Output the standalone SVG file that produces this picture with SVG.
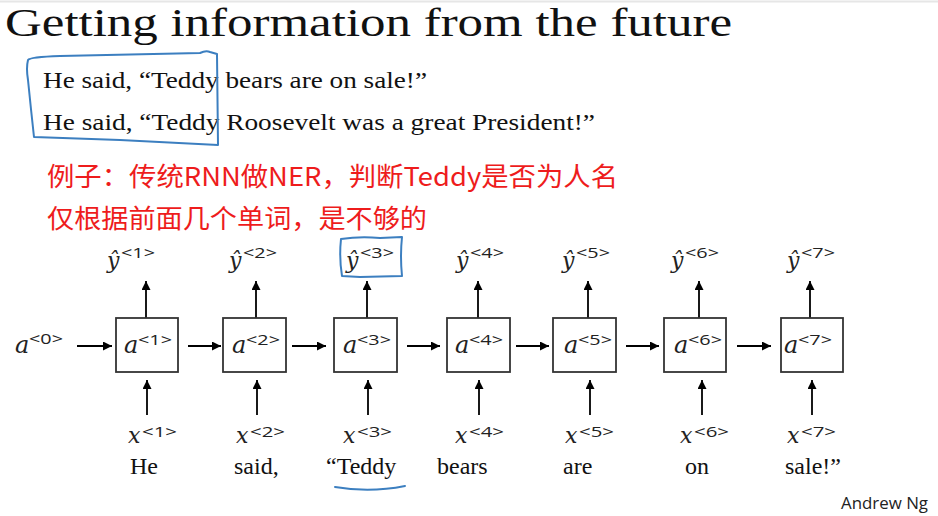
<svg xmlns="http://www.w3.org/2000/svg" width="938" height="516" viewBox="0 0 938 516">
<defs>
<marker id="ah" viewBox="0 0 10 10" refX="10" refY="5" markerWidth="9" markerHeight="9" markerUnits="userSpaceOnUse" orient="auto">
<path d="M0,0 L10,5 L0,10 z" fill="#000"/>
</marker>
<style>
.serif{font-family:"Liberation Serif","DejaVu Serif",serif;fill:#111}
.w{font-family:"Liberation Serif","DejaVu Serif",serif;fill:#111;font-size:24px}
.m{font-family:"DejaVu Serif",serif;font-style:italic;fill:#222}
.sup{font-family:"Open Sans","Liberation Sans",sans-serif;fill:#222;font-size:15px}
.red{font-family:"Microsoft YaHei","Noto Sans CJK SC",sans-serif;fill:#ee1c1c;font-size:26px}
.box{fill:#fff;stroke:#333;stroke-width:1.8}
.ar{stroke:#000;stroke-width:1.8;fill:none;marker-end:url(#ah)}
.hand{fill:none;stroke:#3c7fc0;stroke-width:2;stroke-linecap:round;stroke-linejoin:round}
</style>
</defs>
<rect width="938" height="516" fill="#fff"/>
<line x1="0" y1="1.5" x2="938" y2="1.5" stroke="#e6e6e6" stroke-width="2"/>

<text class="serif" x="5" y="36" font-size="41" textLength="727" lengthAdjust="spacingAndGlyphs">Getting information from the future</text>
<text class="serif" x="43" y="88" font-size="23" textLength="384" lengthAdjust="spacingAndGlyphs">He said, “Teddy bears are on sale!”</text>
<text class="serif" x="43" y="130" font-size="23" textLength="552" lengthAdjust="spacingAndGlyphs">He said, “Teddy Roosevelt was a great President!”</text>

<path class="hand" d="M28,60 Q30,57 60,56 L200,53 Q206,50 210,52 L217,54 L218,145 L120,140 L34,137 Q31,110 28,80 Q26,68 28,60"/>

<text class="red" x="47" y="186" textLength="571" lengthAdjust="spacingAndGlyphs">例子：传统RNN做NER，判断Teddy是否为人名</text>
<text class="red" x="47" y="228" textLength="380" lengthAdjust="spacingAndGlyphs">仅根据前面几个单词，是不够的</text>

<g id="connectors">
<line class="ar" x1="77" y1="346" x2="112" y2="346"/>
<line class="ar" x1="188" y1="346" x2="221" y2="346"/>
<line class="ar" x1="292" y1="346" x2="326" y2="346"/>
<line class="ar" x1="407" y1="346" x2="440" y2="346"/>
<line class="ar" x1="516" y1="346" x2="549" y2="346"/>
<line class="ar" x1="626" y1="346" x2="659" y2="346"/>
<line class="ar" x1="737" y1="346" x2="771" y2="346"/>
<line class="ar" x1="146" y1="318" x2="146" y2="281"/>
<line class="ar" x1="256" y1="318" x2="256" y2="281"/>
<line class="ar" x1="367" y1="318" x2="367" y2="281"/>
<line class="ar" x1="478" y1="318" x2="478" y2="281"/>
<line class="ar" x1="588" y1="318" x2="588" y2="281"/>
<line class="ar" x1="699" y1="318" x2="699" y2="281"/>
<line class="ar" x1="810" y1="318" x2="810" y2="281"/>
<line class="ar" x1="147" y1="415" x2="147" y2="380"/>
<line class="ar" x1="257" y1="415" x2="257" y2="380"/>
<line class="ar" x1="368" y1="415" x2="368" y2="380"/>
<line class="ar" x1="479" y1="415" x2="479" y2="380"/>
<line class="ar" x1="590" y1="415" x2="590" y2="380"/>
<line class="ar" x1="702" y1="415" x2="702" y2="380"/>
<line class="ar" x1="812" y1="415" x2="812" y2="380"/>
</g>

<g id="a0"><text class="m" x="15" y="353" font-size="24">a</text><text class="sup" x="29" y="344" textLength="34" lengthAdjust="spacingAndGlyphs">&lt;0&gt;</text></g>

<g id="node1"><rect class="box" x="116" y="318" width="62" height="54"/><text class="m" x="124" y="353" font-size="24">a</text><text class="sup" x="138" y="345" textLength="34" lengthAdjust="spacingAndGlyphs">&lt;1&gt;</text></g>
<g id="node2"><rect class="box" x="223" y="318" width="63" height="54"/><text class="m" x="232" y="353" font-size="24">a</text><text class="sup" x="246" y="345" textLength="34" lengthAdjust="spacingAndGlyphs">&lt;2&gt;</text></g>
<g id="node3"><rect class="box" x="334" y="318" width="63" height="54"/><text class="m" x="343" y="353" font-size="24">a</text><text class="sup" x="357" y="345" textLength="34" lengthAdjust="spacingAndGlyphs">&lt;3&gt;</text></g>
<g id="node4"><rect class="box" x="447" y="318" width="63" height="54"/><text class="m" x="455" y="353" font-size="24">a</text><text class="sup" x="469" y="345" textLength="34" lengthAdjust="spacingAndGlyphs">&lt;4&gt;</text></g>
<g id="node5"><rect class="box" x="553" y="318" width="63" height="54"/><text class="m" x="564" y="353" font-size="24">a</text><text class="sup" x="578" y="345" textLength="34" lengthAdjust="spacingAndGlyphs">&lt;5&gt;</text></g>
<g id="node6"><rect class="box" x="664" y="318" width="62" height="54"/><text class="m" x="674" y="353" font-size="24">a</text><text class="sup" x="688" y="345" textLength="34" lengthAdjust="spacingAndGlyphs">&lt;6&gt;</text></g>
<g id="node7"><rect class="box" x="781" y="318" width="62" height="54"/><text class="m" x="784" y="353" font-size="24">a</text><text class="sup" x="798" y="345" textLength="34" lengthAdjust="spacingAndGlyphs">&lt;7&gt;</text></g>

<g id="y1"><text class="m" x="107" y="268" font-size="22">ŷ</text><text class="sup" x="121" y="258" textLength="34" lengthAdjust="spacingAndGlyphs">&lt;1&gt;</text></g>
<g id="y2"><text class="m" x="229" y="268" font-size="22">ŷ</text><text class="sup" x="243" y="258" textLength="34" lengthAdjust="spacingAndGlyphs">&lt;2&gt;</text></g>
<g id="y3"><text class="m" x="346" y="268" font-size="22">ŷ</text><text class="sup" x="360" y="258" textLength="34" lengthAdjust="spacingAndGlyphs">&lt;3&gt;</text></g>
<g id="y4"><text class="m" x="456" y="268" font-size="22">ŷ</text><text class="sup" x="470" y="258" textLength="34" lengthAdjust="spacingAndGlyphs">&lt;4&gt;</text></g>
<g id="y5"><text class="m" x="562" y="268" font-size="22">ŷ</text><text class="sup" x="576" y="258" textLength="34" lengthAdjust="spacingAndGlyphs">&lt;5&gt;</text></g>
<g id="y6"><text class="m" x="671" y="268" font-size="22">ŷ</text><text class="sup" x="685" y="258" textLength="34" lengthAdjust="spacingAndGlyphs">&lt;6&gt;</text></g>
<g id="y7"><text class="m" x="787" y="268" font-size="22">ŷ</text><text class="sup" x="801" y="258" textLength="34" lengthAdjust="spacingAndGlyphs">&lt;7&gt;</text></g>

<path class="hand" d="M341,239 Q360,236 380,238 L402,237 Q400,256 402,276 L360,277 L342,276 Q339,258 341,239"/>

<g id="x1"><text class="m" x="128" y="443" font-size="22">x</text><text class="sup" x="142" y="437" textLength="35" lengthAdjust="spacingAndGlyphs">&lt;1&gt;</text><text class="w" x="130" y="474">He</text></g>
<g id="x2"><text class="m" x="236" y="443" font-size="22">x</text><text class="sup" x="250" y="437" textLength="35" lengthAdjust="spacingAndGlyphs">&lt;2&gt;</text><text class="w" x="234" y="474">said,</text></g>
<g id="x3"><text class="m" x="343" y="443" font-size="22">x</text><text class="sup" x="357" y="437" textLength="35" lengthAdjust="spacingAndGlyphs">&lt;3&gt;</text><text class="w" x="326" y="474">“Teddy</text></g>
<g id="x4"><text class="m" x="455" y="443" font-size="22">x</text><text class="sup" x="469" y="437" textLength="35" lengthAdjust="spacingAndGlyphs">&lt;4&gt;</text><text class="w" x="437" y="474">bears</text></g>
<g id="x5"><text class="m" x="565" y="443" font-size="22">x</text><text class="sup" x="579" y="437" textLength="35" lengthAdjust="spacingAndGlyphs">&lt;5&gt;</text><text class="w" x="563" y="474">are</text></g>
<g id="x6"><text class="m" x="680" y="443" font-size="22">x</text><text class="sup" x="694" y="437" textLength="35" lengthAdjust="spacingAndGlyphs">&lt;6&gt;</text><text class="w" x="685" y="474">on</text></g>
<g id="x7"><text class="m" x="787" y="443" font-size="22">x</text><text class="sup" x="801" y="437" textLength="35" lengthAdjust="spacingAndGlyphs">&lt;7&gt;</text><text class="w" x="785" y="474">sale!”</text></g>

<path class="hand" d="M335,487 Q370,493 405,486"/>

<text x="841" y="509" font-family="Open Sans, Liberation Sans, sans-serif" font-size="16" fill="#222" textLength="87" lengthAdjust="spacingAndGlyphs">Andrew Ng</text>
</svg>
